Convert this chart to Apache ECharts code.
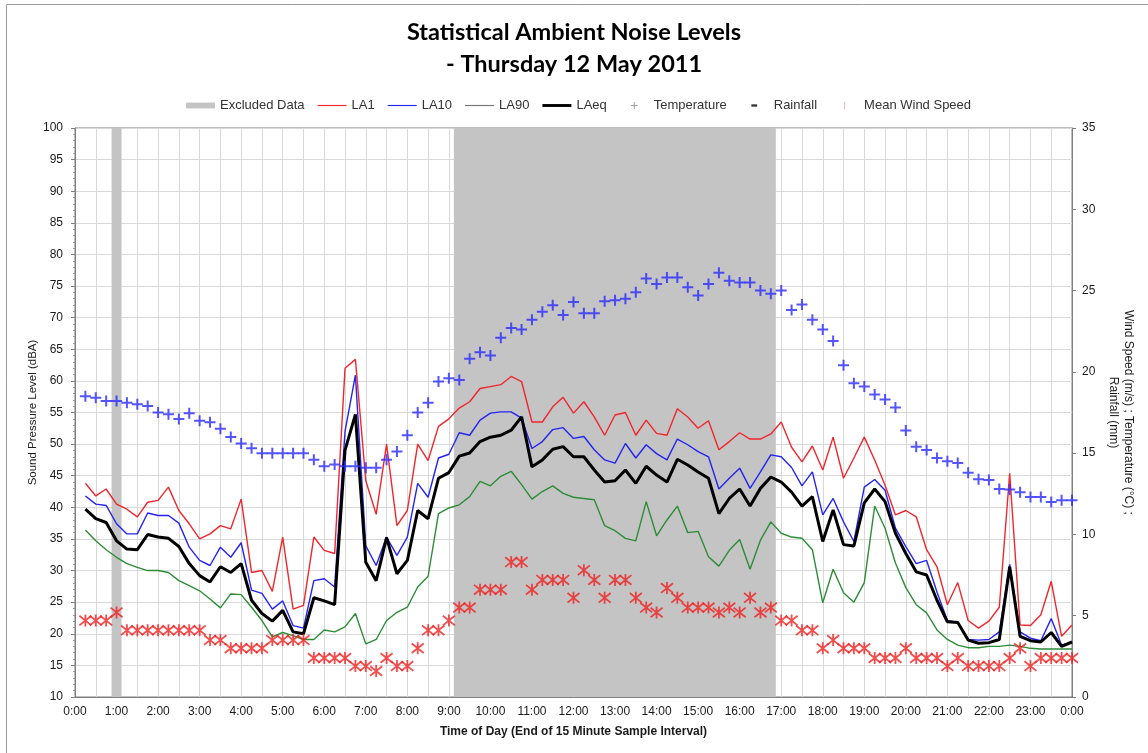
<!DOCTYPE html>
<html>
<head>
<meta charset="utf-8">
<title>Statistical Ambient Noise Levels</title>
<script src="https://cdn.jsdelivr.net/npm/echarts@6/dist/echarts.min.js"></script>
<style>
  html, body { margin: 0; padding: 0; background: #fff; }
  #chart { width: 1148px; height: 753px; }
</style>
</head>
<body>
<div id="chart"></div>
<script>
// sample end times, hours (every 15 minutes, 0:15 .. 24:00)
var sampleTimes = [];
for (var i = 1; i <= 96; i++) sampleTimes.push(i / 4);

// excluded periods, hours
var excludedFrom = [0.88, 9.12];
var excludedTo = [1.12, 16.87];

var la1 = [43.8, 41.8, 42.9, 40.5, 39.7, 38.5, 40.8, 41.1, 43.2, 39.5, 37.4, 35.0, 35.8, 37.1, 36.6, 41.3,
  29.7, 30.0, 26.7, 35.3, 23.9, 24.5, 35.3, 33.2, 32.7, 62.0, 63.4, 44.2, 38.9, 50.0, 37.1, 39.5,
  50.0, 47.4, 52.8, 54.0, 55.7, 56.7, 58.8, 59.1, 59.4, 60.7, 59.9, 53.5, 53.5, 55.9, 57.4, 54.9,
  56.7, 54.3, 51.4, 54.6, 55.0, 51.4, 53.8, 51.7, 51.4, 55.6, 54.3, 52.5, 53.7, 49.1, 50.4, 51.8,
  50.8, 50.8, 51.6, 53.5, 49.5, 47.2, 49.7, 45.9, 51.1, 44.6, 47.8, 51.1, 47.5, 43.5, 38.8, 39.5,
  38.5, 33.3, 30.6, 24.6, 28.1, 22.1, 20.9, 22.0, 24.2, 45.4, 21.4, 21.3, 23.0, 28.3, 19.6, 21.4];

var la10 = [41.8, 40.5, 40.3, 37.4, 35.8, 35.8, 39.1, 38.7, 38.7, 37.5, 33.7, 31.6, 30.8, 33.7, 32.1, 34.4,
  26.9, 26.4, 23.9, 25.2, 21.3, 20.9, 28.4, 28.7, 27.4, 52.0, 60.9, 33.9, 30.8, 35.3, 32.4, 35.3,
  43.8, 41.6, 47.8, 48.4, 51.8, 51.4, 53.8, 54.9, 55.1, 55.1, 54.1, 49.3, 50.4, 52.3, 52.6, 50.9,
  51.2, 49.1, 47.5, 47.0, 50.1, 47.8, 49.9, 48.5, 47.5, 50.8, 49.9, 48.8, 48.0, 42.9, 44.6, 46.2,
  43.0, 45.6, 48.3, 48.0, 46.3, 43.4, 45.6, 38.8, 41.4, 37.7, 34.6, 43.2, 44.4, 42.7, 36.7, 33.8,
  31.1, 31.6, 26.6, 22.1, 21.8, 19.1, 19.0, 19.1, 20.3, 31.0, 20.3, 19.3, 18.9, 22.4, 18.2, 18.7];

var la90 = [36.4, 34.7, 33.3, 32.1, 31.1, 30.5, 30.0, 30.0, 29.7, 28.4, 27.6, 26.8, 25.5, 24.1, 26.3, 26.2,
  24.2, 22.1, 19.5, 20.2, 19.7, 19.1, 19.1, 20.6, 20.3, 21.1, 23.2, 18.4, 19.1, 22.1, 23.4, 24.2,
  27.4, 29.1, 39.0, 39.9, 40.4, 41.7, 44.1, 43.4, 44.9, 45.7, 43.6, 41.3, 42.5, 43.4, 42.2, 41.6,
  41.4, 41.2, 37.1, 36.3, 35.1, 34.7, 40.9, 35.5, 38.0, 40.2, 36.0, 36.2, 32.2, 30.7, 33.2, 34.9,
  30.2, 34.8, 37.7, 35.9, 35.3, 35.1, 33.3, 24.9, 30.2, 26.5, 25.0, 28.1, 40.2, 36.7, 31.2, 27.3,
  24.6, 23.3, 20.6, 19.1, 18.2, 17.8, 17.8, 18.0, 18.0, 18.2, 18.0, 17.7, 17.6, 17.6, 17.6, 17.6];

var laeq = [39.7, 38.2, 37.6, 34.7, 33.4, 33.3, 35.7, 35.3, 35.1, 33.8, 31.1, 29.2, 28.2, 30.6, 29.7, 31.1,
  25.3, 23.2, 22.0, 23.7, 20.3, 20.0, 25.7, 25.2, 24.6, 49.0, 54.7, 31.3, 28.4, 35.2, 29.5, 31.6,
  39.5, 38.2, 44.6, 45.5, 48.1, 48.6, 50.4, 51.1, 51.4, 52.2, 54.3, 46.4, 47.5, 49.2, 49.6, 48.0,
  48.0, 45.9, 44.0, 44.2, 45.9, 43.8, 46.5, 45.1, 44.0, 47.6, 46.7, 45.6, 44.6, 39.0, 41.4, 42.9,
  40.2, 43.0, 44.8, 44.0, 42.4, 40.2, 41.7, 34.6, 39.6, 34.1, 33.9, 40.7, 42.9, 40.9, 35.9, 32.7,
  29.8, 29.3, 25.3, 21.9, 21.8, 19.0, 18.5, 18.6, 19.1, 30.6, 19.6, 18.9, 18.7, 20.2, 18.0, 18.7];

var temperature = [18.5, 18.4, 18.2, 18.2, 18.1, 18.0, 17.9, 17.5, 17.4, 17.1, 17.45, 17.0, 16.9, 16.5, 16.0, 15.6,
  15.3, 15.0, 15.0, 15.0, 15.0, 15.0, 14.6, 14.2, 14.3, 14.2, 14.2, 14.1, 14.1, 14.6, 15.1, 16.1,
  17.5, 18.1, 19.4, 19.6, 19.5, 20.8, 21.2, 21.0, 22.1, 22.7, 22.6, 23.2, 23.7, 24.1, 23.5, 24.3,
  23.6, 23.6, 24.35, 24.4, 24.5, 24.9, 25.75, 25.4, 25.8, 25.8, 25.2, 24.7, 25.4, 26.1, 25.6, 25.5,
  25.5, 25.0, 24.8, 25.0, 23.8, 24.15, 23.2, 22.6, 21.9, 20.4, 19.3, 19.1, 18.6, 18.3, 17.8, 16.4,
  15.4, 15.2, 14.7, 14.5, 14.4, 13.8, 13.4, 13.35, 12.8, 12.77, 12.6, 12.3, 12.3, 12.0, 12.1, 12.1];

var windSpeed = [4.7, 4.7, 4.7, 5.2, 4.1, 4.1, 4.1, 4.1, 4.1, 4.1, 4.1, 4.1, 3.5, 3.5, 3.0, 3.0,
  3.0, 3.0, 3.5, 3.5, 3.5, 3.5, 2.4, 2.4, 2.4, 2.4, 1.9, 1.9, 1.6, 2.4, 1.9, 1.9,
  3.0, 4.1, 4.1, 4.7, 5.5, 5.5, 6.6, 6.6, 6.6, 8.3, 8.3, 6.6, 7.2, 7.2, 7.2, 6.1,
  7.8, 7.2, 6.1, 7.2, 7.2, 6.1, 5.5, 5.2, 6.7, 6.1, 5.5, 5.5, 5.5, 5.2, 5.5, 5.2,
  6.1, 5.2, 5.5, 4.7, 4.7, 4.1, 4.1, 3.0, 3.5, 3.0, 3.0, 3.0, 2.4, 2.4, 2.4, 3.0,
  2.4, 2.4, 2.4, 1.9, 2.4, 1.9, 1.9, 1.9, 1.9, 2.4, 3.0, 1.9, 2.4, 2.4, 2.4, 2.4];

// no rainfall recorded
var rainfall = [];

var pair = function (values) {
  return values.map(function (v, k) { return [sampleTimes[k], v]; });
};

var txt = '#1a1a1a';
var narrow = "'Liberation Sans Narrow', 'Liberation Sans', Arial, sans-serif";
var plain = "'Liberation Sans', Arial, sans-serif";

var bands = excludedFrom.map(function (f, k) {
  return [{ xAxis: f }, { xAxis: excludedTo[k] }];
});

// legend icons, drawn in a 30 x 12 box
var thinLine = 'path://M0,0M30,12M0,5.4H30V6.6H0Z';
var thickLine = 'path://M0,0M30,12M0,4.5H30V7.5H0Z';

var chart = echarts.init(document.getElementById('chart'));
var option = {
  backgroundColor: '#fff',
  animation: false,
  title: {
    text: 'Statistical Ambient Noise Levels\n- Thursday 12 May 2011',
    left: 'center',
    top: 11,
    textStyle: { fontFamily: 'Lato, sans-serif', fontSize: 23.5, fontWeight: 'bold', color: '#000', lineHeight: 32 }
  },
  graphic: [{
    type: 'rect', left: 4, top: 2, silent: true,
    shape: { width: 1170, height: 780 },
    style: { fill: 'none', stroke: '#9a9a9a', lineWidth: 1 }
  }],
  legend: {
    top: 94,
    left: 181,
    itemWidth: 29,
    itemHeight: 12,
    itemGap: 13,
    textStyle: { fontFamily: narrow, fontSize: 13, color: '#333' },
    data: [
      { name: 'Excluded Data', icon: 'path://M0,0M30,12M0,3H30V9H0Z', itemStyle: { color: '#c4c4c4' } },
      { name: 'LA1', icon: thinLine },
      { name: 'LA10', icon: thinLine },
      { name: 'LA90', icon: thinLine, itemStyle: { color: '#777' } },
      { name: 'LAeq', icon: thickLine },
      { name: 'Temperature', icon: 'path://M0,0M30,12M14.5,2.5H15.5V5.5H18.5V6.5H15.5V9.5H14.5V6.5H11.5V5.5H14.5Z', itemStyle: { color: '#888', borderWidth: 0 } },
      { name: 'Rainfall', icon: 'path://M0,0M30,12M12,4.8H18V7.2H12Z', itemStyle: { color: '#000', borderWidth: 0 } },
      { name: 'Mean Wind Speed', icon: 'path://M0,0M30,12M14.4,2H15.6V10H14.4Z', itemStyle: { color: '#f4a6b8', borderWidth: 0 } }
    ]
  },
  grid: {
    left: 75, right: 76, top: 128, bottom: 56,
    show: true, borderColor: '#7f7f7f', borderWidth: 1, backgroundColor: '#fff'
  },
  xAxis: {
    type: 'value',
    min: 0, max: 24, interval: 1,
    name: 'Time of Day (End of 15 Minute Sample Interval)',
    nameLocation: 'middle',
    nameGap: 29,
    nameMoveOverlap: false,
    nameTextStyle: { fontFamily: narrow, fontSize: 12, fontWeight: 'bold', color: txt },
    axisLine: { lineStyle: { color: '#7f7f7f' } },
    axisTick: { show: false },
    axisLabel: {
      fontFamily: plain, fontSize: 12, color: txt, margin: 9,
      formatter: function (v) { return (v % 24) + ':00'; }
    },
    splitLine: { show: true, lineStyle: { color: '#d9d9d9' } },
    minorTick: { show: false, splitNumber: 2 },
    minorSplitLine: { show: true, lineStyle: { color: '#d9d9d9' } }
  },
  yAxis: [{
    type: 'value',
    min: 10, max: 100, interval: 5,
    name: 'Sound Pressure Level (dBA)',
    nameLocation: 'middle',
    nameGap: 36,
    nameMoveOverlap: false,
    nameTextStyle: { fontFamily: narrow, fontSize: 11.5, color: txt },
    axisLine: { show: true, lineStyle: { color: '#7f7f7f' } },
    axisTick: { show: true, length: 4, lineStyle: { color: '#7f7f7f' } },
    minorTick: { show: true, splitNumber: 5, length: 2, lineStyle: { color: '#9a9a9a' } },
    axisLabel: { fontFamily: plain, fontSize: 12, color: txt, margin: 12 },
    splitLine: { show: true, lineStyle: { color: '#d9d9d9' } }
  }, {
    type: 'value',
    min: 0, max: 35, interval: 5,
    position: 'right',
    name: 'Wind Speed (m/s) ; Temperature (\u00b0C) ;\nRainfall (mm)',
    nameLocation: 'middle',
    nameGap: 34,
    nameMoveOverlap: false,
    nameRotate: -90,
    nameTextStyle: { fontFamily: narrow, fontSize: 12, color: txt, lineHeight: 15 },
    axisLine: { show: true, lineStyle: { color: '#7f7f7f' } },
    axisTick: { show: true, length: 4, lineStyle: { color: '#7f7f7f' } },
    axisLabel: { fontFamily: plain, fontSize: 12, color: txt, margin: 10 },
    splitLine: { show: false }
  }],
  series: [
    {
      name: 'Excluded Data', type: 'line', data: [], z: 1,
      itemStyle: { color: '#c4c4c4' },
      markArea: { silent: true, itemStyle: { color: '#c4c4c4', opacity: 1 }, data: bands }
    },
    {
      name: 'LA1', type: 'line', data: pair(la1), symbol: 'none', z: 3,
      lineStyle: { color: '#f0262d', width: 1.4 }, itemStyle: { color: '#f0262d' }
    },
    {
      name: 'LA10', type: 'line', data: pair(la10), symbol: 'none', z: 3,
      lineStyle: { color: '#2424f0', width: 1.4 }, itemStyle: { color: '#2424f0' }
    },
    {
      name: 'LA90', type: 'line', data: pair(la90), symbol: 'none', z: 3,
      lineStyle: { color: '#2c8c37', width: 1.4 }, itemStyle: { color: '#2c8c37' }
    },
    {
      name: 'LAeq', type: 'line', data: pair(laeq), symbol: 'none', z: 4,
      lineStyle: { color: '#000', width: 3 }, itemStyle: { color: '#000' }
    },
    {
      name: 'Temperature', type: 'scatter', yAxisIndex: 1, data: pair(temperature), z: 5,
      symbol: 'path://M0,5H10M5,0V10', symbolSize: 11,
      itemStyle: { color: 'rgba(0,0,0,0)', borderColor: '#2a2aff', borderWidth: 2 }
    },
    {
      name: 'Rainfall', type: 'scatter', yAxisIndex: 1, data: pair(rainfall), z: 5,
      symbol: 'rect', symbolSize: [8, 3], itemStyle: { color: '#000' }
    },
    {
      name: 'Mean Wind Speed', type: 'scatter', yAxisIndex: 1, data: pair(windSpeed), z: 5,
      symbol: 'path://M1,1L9,9M9,1L1,9M5,0V10', symbolSize: 12,
      itemStyle: { color: 'rgba(0,0,0,0)', borderColor: '#f02020', borderWidth: 1.8 }
    }
  ]
};
chart.setOption(option);
</script>
</body>
</html>
